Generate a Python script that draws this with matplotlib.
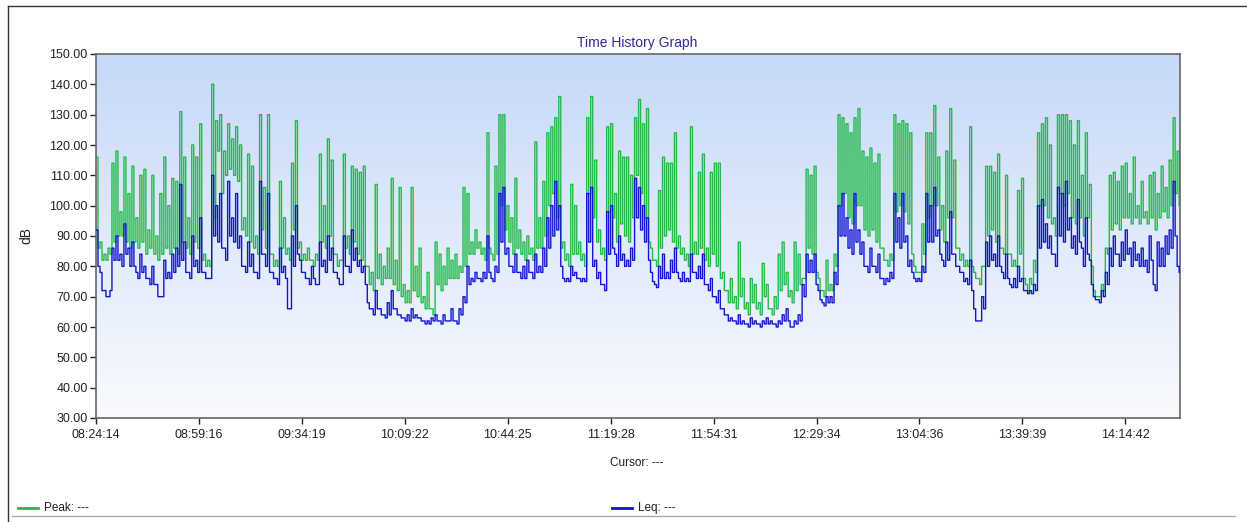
import numpy as np
import matplotlib
matplotlib.use("Agg")
import matplotlib.pyplot as plt
from matplotlib.lines import Line2D

# Logged levels: two readings per block of block_s seconds from the start time
start_time = "08:24:14"
block_s = 81.5

# first reading of each block
peak_db = [
    116, 88, 84, 86, 114, 118, 98, 116, 104, 113,
    96, 110, 112, 92, 110, 90, 104, 116, 100, 109,
    108, 131, 116, 96, 120, 116, 127, 84, 82, 140,
    128, 130, 118, 127, 122, 126, 120, 96, 117, 113,
    90, 130, 106, 130, 84, 82, 108, 96, 86, 114,
    128, 88, 84, 86, 82, 84, 117, 100, 122, 115,
    84, 82, 117, 90, 113, 112, 111, 113, 80, 78,
    107, 84, 80, 86, 109, 82, 106, 74, 72, 106,
    80, 86, 70, 78, 66, 88, 84, 80, 86, 82,
    84, 80, 106, 104, 88, 92, 88, 86, 124, 84,
    113, 130, 130, 100, 96, 109, 92, 88, 90, 86,
    121, 96, 108, 124, 126, 129, 136, 88, 84, 107,
    100, 88, 84, 129, 136, 115, 92, 86, 126, 127,
    104, 118, 116, 116, 110, 129, 135, 127, 132, 86,
    82, 105, 116, 114, 114, 124, 90, 86, 84, 126,
    88, 111, 117, 86, 111, 114, 114, 78, 72, 76,
    70, 88, 76, 68, 76, 74, 68, 81, 74, 66,
    70, 84, 88, 78, 72, 88, 84, 76, 112, 110,
    113, 76, 72, 82, 74, 84, 130, 129, 127, 124,
    129, 132, 118, 116, 119, 114, 117, 86, 82, 84,
    130, 127, 128, 127, 124, 80, 78, 94, 124, 124,
    133, 116, 100, 118, 132, 115, 86, 84, 82, 126,
    78, 76, 80, 113, 113, 111, 117, 86, 110, 84,
    82, 105, 109, 74, 76, 82, 124, 127, 129, 120,
    96, 130, 130, 130, 128, 120, 128, 110, 124, 107,
    72, 70, 74, 86, 110, 111, 108, 113, 114, 104,
    116, 100, 108, 98, 110, 111, 104, 113, 106, 115, 129, 118,
]
# second reading of each block
peak_db_2 = [
    86, 82, 82, 84, 88, 90, 90, 88, 86, 88,
    86, 88, 84, 86, 84, 82, 84, 86, 84, 86,
    84, 88, 86, 84, 88, 86, 82, 80, 80, 96,
    118, 104, 110, 112, 110, 108, 92, 90, 88, 86,
    84, 92, 86, 84, 80, 80, 86, 84, 82, 92,
    86, 82, 82, 82, 80, 82, 88, 86, 90, 84,
    80, 82, 86, 84, 88, 84, 82, 80, 74, 72,
    76, 74, 76, 76, 74, 72, 70, 68, 68, 72,
    70, 68, 66, 66, 64, 74, 72, 74, 76, 76,
    76, 78, 80, 84, 84, 86, 84, 82, 86, 82,
    84, 100, 92, 88, 84, 86, 84, 82, 84, 82,
    86, 86, 90, 100, 104, 96, 86, 82, 80, 84,
    84, 82, 80, 104, 96, 88, 84, 82, 98, 96,
    88, 94, 90, 88, 96, 110, 104, 96, 88, 82,
    80, 86, 90, 92, 88, 86, 84, 82, 80, 84,
    84, 86, 82, 80, 84, 80, 76, 72, 68, 68,
    66, 70, 66, 64, 68, 66, 64, 70, 66, 64,
    66, 72, 74, 70, 68, 72, 74, 76, 86, 84,
    78, 72, 70, 72, 72, 80, 100, 104, 96, 94,
    100, 100, 92, 90, 92, 88, 86, 82, 80, 82,
    98, 100, 98, 94, 84, 78, 78, 84, 96, 100,
    100, 92, 88, 96, 96, 86, 82, 80, 80, 80,
    76, 74, 80, 90, 92, 88, 86, 84, 84, 80,
    80, 84, 76, 72, 74, 78, 100, 100, 96, 94,
    90, 104, 100, 104, 96, 94, 96, 90, 96, 80,
    70, 70, 72, 84, 92, 94, 92, 96, 96, 94,
    96, 94, 96, 94, 96, 92, 96, 98, 96, 100, 104, 100,
]

leq_db = [
    92, 78, 72, 70, 86, 90, 84, 94, 86, 88,
    78, 84, 80, 76, 80, 74, 70, 82, 78, 84,
    86, 107, 88, 78, 90, 82, 96, 78, 76, 110,
    100, 104, 86, 108, 96, 104, 90, 80, 88, 84,
    78, 108, 84, 104, 78, 76, 86, 80, 66, 90,
    100, 82, 78, 76, 80, 74, 88, 82, 90, 86,
    78, 74, 90, 80, 92, 86, 82, 80, 68, 66,
    72, 66, 64, 68, 72, 66, 64, 63, 64, 66,
    64, 63, 62, 62, 63, 64, 62, 64, 62, 66,
    62, 66, 70, 80, 76, 78, 76, 78, 90, 76,
    80, 104, 106, 86, 80, 84, 78, 80, 82, 78,
    84, 80, 86, 96, 100, 108, 100, 76, 76, 80,
    78, 76, 76, 104, 106, 82, 78, 74, 98, 100,
    84, 90, 84, 82, 86, 109, 106, 100, 96, 78,
    74, 80, 84, 78, 82, 86, 76, 78, 76, 84,
    78, 80, 84, 74, 76, 70, 72, 66, 64, 63,
    62, 64, 62, 61, 63, 62, 61, 62, 63, 62,
    61, 62, 64, 66, 60, 62, 64, 74, 84, 82,
    84, 72, 68, 70, 70, 78, 100, 104, 96, 92,
    104, 92, 88, 80, 86, 80, 84, 76, 76, 78,
    104, 96, 104, 90, 82, 76, 76, 80, 104, 100,
    106, 92, 82, 88, 98, 84, 80, 78, 76, 82,
    66, 62, 70, 88, 90, 84, 90, 78, 84, 74,
    76, 80, 76, 72, 72, 74, 100, 102, 94, 90,
    84, 106, 104, 108, 96, 90, 102, 86, 96, 82,
    70, 69, 72, 78, 86, 90, 84, 88, 92, 86,
    88, 84, 86, 82, 90, 74, 88, 86, 90, 92, 108, 80,
]
leq_db_2 = [
    80, 72, 70, 72, 82, 82, 80, 84, 80, 80,
    76, 78, 76, 74, 74, 70, 70, 76, 76, 78,
    80, 82, 78, 76, 80, 78, 78, 76, 76, 90,
    88, 86, 82, 90, 88, 86, 80, 78, 80, 78,
    76, 84, 80, 78, 76, 74, 78, 76, 66, 80,
    84, 78, 76, 74, 76, 74, 80, 78, 82, 78,
    76, 74, 80, 78, 82, 80, 78, 74, 66, 64,
    66, 64, 63, 64, 66, 64, 63, 62, 62, 63,
    63, 62, 61, 61, 62, 62, 61, 62, 62, 62,
    61, 64, 68, 74, 75, 76, 75, 76, 78, 75,
    78, 88, 84, 80, 78, 78, 76, 76, 78, 76,
    78, 78, 80, 86, 90, 92, 80, 75, 75, 77,
    76, 75, 75, 88, 80, 76, 74, 72, 84, 86,
    80, 82, 80, 80, 82, 96, 92, 88, 82, 75,
    73, 76, 76, 76, 78, 78, 75, 75, 75, 78,
    76, 76, 74, 72, 70, 68, 66, 64, 62, 62,
    61, 61, 61, 60, 61, 61, 60, 61, 61, 61,
    60, 61, 62, 62, 60, 61, 62, 70, 78, 78,
    74, 69, 67, 68, 68, 74, 90, 90, 86, 84,
    88, 84, 80, 78, 80, 78, 76, 74, 75, 76,
    88, 86, 88, 80, 78, 75, 75, 78, 88, 88,
    90, 84, 80, 82, 84, 80, 78, 75, 74, 72,
    62, 62, 66, 80, 82, 80, 80, 76, 76, 73,
    73, 75, 72, 71, 71, 72, 86, 88, 86, 84,
    80, 90, 88, 92, 86, 84, 88, 80, 84, 74,
    69, 68, 70, 74, 80, 84, 80, 82, 84, 80,
    82, 80, 80, 78, 82, 72, 80, 80, 84, 86, 90, 78,
]

tick_labels = ["08:24:14", "08:59:16", "09:34:19", "10:09:22", "10:44:25",
               "11:19:28", "11:54:31", "12:29:34", "13:04:36", "13:39:39",
               "14:14:42"]
axis_span_s = 22145


def to_seconds(hms):
    h, m, s = (int(v) for v in hms.split(":"))
    return h * 3600 + m * 60 + s


def interleave(a, b):
    out = np.empty(len(a) + len(b))
    out[0::2] = a
    out[1::2] = b
    return out


t0 = to_seconds(start_time)
tick_pos = [to_seconds(lbl) - t0 for lbl in tick_labels]
peak = interleave(peak_db, peak_db_2)
leq = interleave(leq_db, leq_db_2)
t = np.arange(len(peak)) * block_s / 2

plt.rcParams["font.family"] = ["Liberation Sans", "DejaVu Sans"]

W, H = 1247, 522
fig = plt.figure(figsize=(W / 100, H / 100), dpi=100)
fig.patch.set_facecolor("white")

ax = fig.add_axes([96 / W, 1 - 418 / H, (1180 - 96) / W, (418 - 54) / H])

# Vertical gradient backdrop of the plot area: light blue at the top fading to white
grad = np.linspace(0, 1, 256).reshape(-1, 1)
top = np.array([0.776, 0.851, 0.973])
bottom = np.array([0.976, 0.982, 0.996])
img = top[None, None, :] * (1 - grad[:, :, None]) + bottom[None, None, :] * grad[:, :, None]
ax.imshow(img, extent=[0, axis_span_s, 30, 150], origin="upper", aspect="auto",
          zorder=0, interpolation="bilinear")

ax.plot(t, peak, drawstyle="steps-post", color="#22BB4A", lw=1.0, zorder=2)
ax.plot(t, leq, drawstyle="steps-post", color="#1414D2", lw=1.0, zorder=3)

ax.set_xlim(0, axis_span_s)
ax.set_ylim(30, 150)
ax.set_yticks(np.arange(30, 151, 10))
ax.set_yticklabels([f"{v:.2f}" for v in np.arange(30, 151, 10)])
ax.set_xticks(tick_pos)
ax.set_xticklabels(tick_labels)
ax.tick_params(axis="both", labelsize=9, colors="#222222", length=4, width=1,
               direction="out")
ax.tick_params(axis="x", pad=4)
ax.tick_params(axis="y", pad=2)
for sp in ax.spines.values():
    sp.set_color("#666666")
    sp.set_linewidth(1.2)

ax.set_ylabel("dB", fontsize=10, color="#222222", labelpad=4)
ax.yaxis.set_label_coords(-0.058, 0.5)

fig.text(637 / W, 1 - 43 / H, "Time History Graph", ha="center", va="center",
         fontsize=10, color="#2C2C96")
fig.text(637 / W, 1 - 463 / H, "Cursor: ---", ha="center", va="center",
         fontsize=8.5, color="#222222")

# Legend row at the bottom
fig.add_artist(Line2D([18 / W, 38 / W], [1 - 508 / H] * 2, color="#22BB4A", lw=2))
fig.text(44 / W, 1 - 508 / H, "Peak: ---", ha="left", va="center", fontsize=8.5,
         color="#222222")
fig.add_artist(Line2D([612 / W, 632 / W], [1 - 508 / H] * 2, color="#1414D2", lw=2))
fig.text(638 / W, 1 - 508 / H, "Leq: ---", ha="left", va="center", fontsize=8.5,
         color="#222222")
fig.add_artist(Line2D([12 / W, 1235 / W], [1 - 516 / H] * 2, color="#AAAAAA", lw=1))

# Outer frame
fig.add_artist(Line2D([8 / W, 8 / W], [0, 1 - 6 / H], color="#333333", lw=1))
fig.add_artist(Line2D([8 / W, 1], [1 - 6 / H] * 2, color="#333333", lw=1))

fig.savefig("out.png", dpi=100)
